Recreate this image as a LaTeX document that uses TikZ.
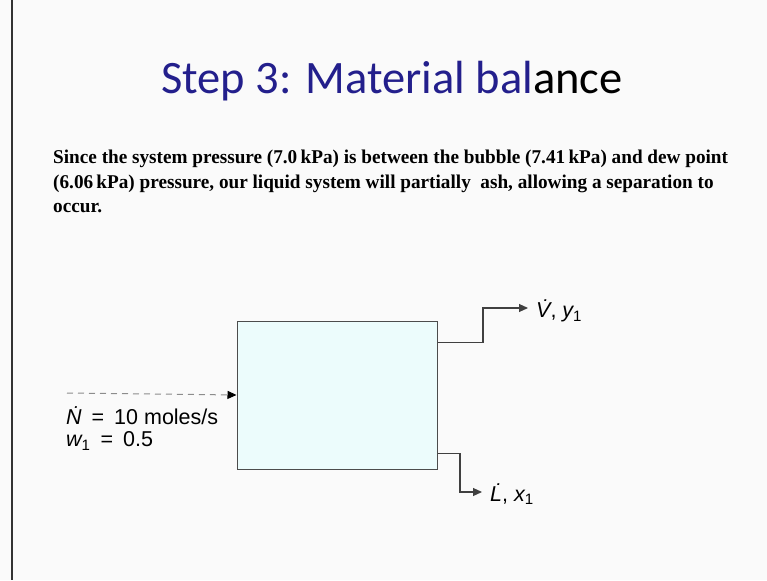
\documentclass[tikz,border=0pt]{standalone}
\usepackage{fontspec}
\setmainfont{Liberation Serif}
\setsansfont{Liberation Sans}
\newfontfamily\titlefont{Carlito}
\newfontfamily\notefont[FakeStretch=0.985]{Liberation Serif}
\usetikzlibrary{arrows.meta,positioning}
\definecolor{titleblue}{RGB}{35,31,140}
\definecolor{drumfill}{RGB}{236,252,252}
\definecolor{pagebg}{RGB}{250,250,250}
\newcommand{\eqsign}{\hspace{4pt} = \hspace{4pt}}

\begin{document}
\begin{tikzpicture}[x=1pt,y=-1pt,
  stream/.style={draw=black!75,line width=1.1pt,-{Triangle[length=9pt,width=8pt]}},
  lbl/.style={font=\sffamily\fontsize{21.5}{25}\selectfont,inner sep=0pt,anchor=west},
  prod/.style={lbl,inner xsep=8pt},
  txt/.style={font=\notefont\bfseries\fontsize{19.5}{23}\selectfont,inner sep=0pt,anchor=base west}]
\fill[pagebg] (0,0) rectangle (767,580);
\useasboundingbox (0,0) rectangle (767,580);
\draw[black!80,line width=1.6pt] (12,0)--(12,580);
% heading
\node[font=\titlefont\fontsize{46.5}{52}\selectfont,inner sep=0pt,anchor=base] (title) at (392,94)
  {\textcolor{titleblue}{Step 3: Material bal}ance};
% statement
\node[txt] (line1) at (53,164) {Since the system pressure (7.0\,kPa) is between the bubble (7.41\,kPa) and dew point};
\node[txt] (line2) at (53,188) {(6.06\,kPa) pressure, our liquid system will partially \ ash, allowing a separation to};
\node[txt] (line3) at (53,212) {occur.};
% flash drum
\node[draw=black!70,line width=1pt,fill=drumfill,minimum width=200pt,minimum height=148pt,inner sep=0pt] (drum) at (337,395) {};
\coordinate (feedin) at (67,393);
\draw[dashed,dash pattern=on 6pt off 5pt,draw=black!45,line width=1pt,-{Triangle[length=9pt,width=8pt,color=black]}] (feedin) -- (drum.west);
\node[lbl] (feed) at (66,416) {\itshape\.N\upshape\eqsign 10 moles/s};
\node[lbl] (comp) at (66,441) {\itshape w\upshape\textsubscript{1}\eqsign 0.5};
% products
\node[prod] (vap) at (528,311) {\itshape\.V\upshape, \itshape y\upshape\textsubscript{1}};
\node[prod] (liq) at (482,494) {\itshape\.L\upshape, \itshape x\upshape\textsubscript{1}};
\path (drum.north east) ++(0,22) coordinate (vout);
\path (drum.south east) ++(0,-16) coordinate (lout);
\coordinate (vk) at (483,308);
\coordinate (lk) at (460,492);
\draw[stream] (vout) -| (vk) -- (vap.west |- vk);
\draw[stream] (lout) -| (lk) -- (liq.west |- lk);
\end{tikzpicture}
\end{document}
